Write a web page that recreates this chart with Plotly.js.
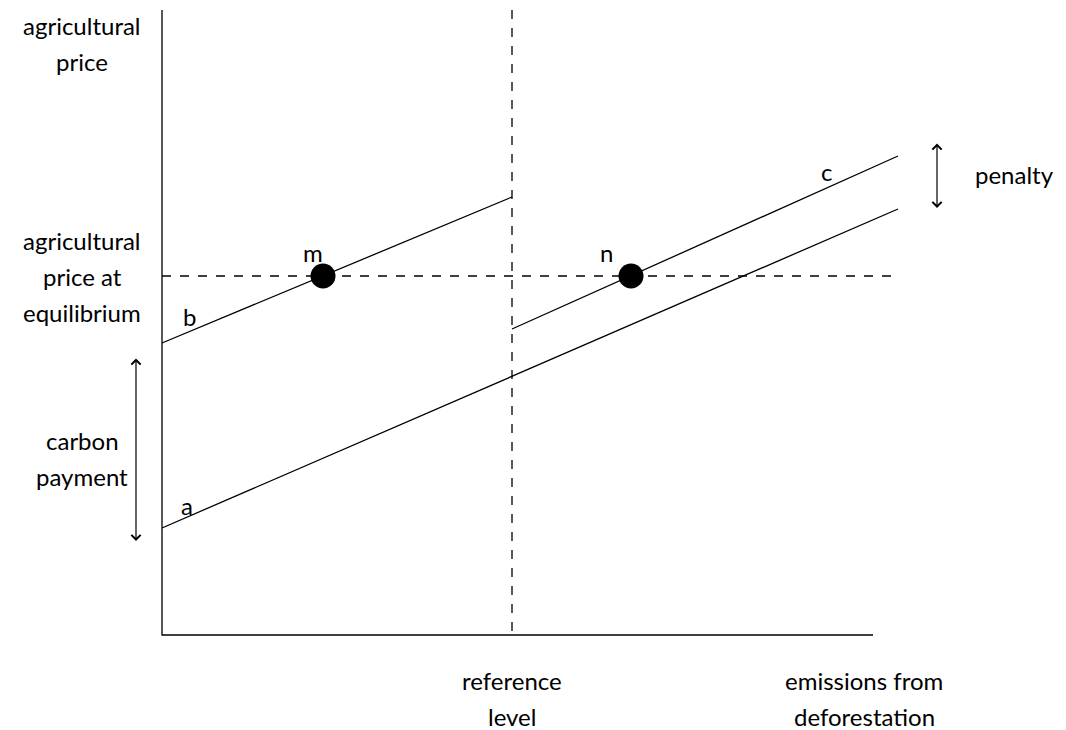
<!DOCTYPE html>
<html>
<head>
<meta charset="utf-8">
<script src="https://cdn.plot.ly/plotly-3.0.1.min.js"></script>
<style>body{margin:0;background:#fff}#chart{width:1066px;height:730px}</style>
</head>
<body>
<div id="chart"></div>
<script>
// schematic in picture coordinates (x right, y down)
const axisX = [162, 162, 873];
const axisY = [10, 635, 635];
const refX = [512, 512], refY = [10, 635];
const eqX = [162, 893], eqY = [276, 276];
const lineAX = [162, 898], lineAY = [528, 209];
const lineBX = [162, 512], lineBY = [343, 197];
const lineCX = [512, 898], lineCY = [329, 156];
const pointX = [323, 631], pointY = [276, 276];

// each label: lines of text, centre x, y of first line
const labels = [
  {t: ['m'], x: 313, y: 252}, {t: ['n'], x: 606, y: 252},
  {t: ['b'], x: 189, y: 316}, {t: ['a'], x: 187, y: 505}, {t: ['c'], x: 826, y: 171},
  {t: ['agricultural', 'price'], x: 82, y: 25},
  {t: ['agricultural', 'price at', 'equilibrium'], x: 82, y: 240},
  {t: ['carbon', 'payment'], x: 82, y: 440},
  {t: ['penalty'], x: 1014, y: 174},
  {t: ['reference', 'level'], x: 512, y: 680},
  {t: ['emissions from', 'deforestation'], x: 864, y: 680}
];
const lineGap = 36;
const arrows = [
  {x: 136, y0: 357, y1: 541},
  {x: 937, y0: 142, y1: 208}
];

const solid = {color: '#000', width: 1.3};
const dash = {color: '#000', width: 1.3, dash: 'dash'};
const traces = [
  {x: axisX, y: axisY, mode: 'lines', line: solid},
  {x: refX, y: refY, mode: 'lines', line: dash},
  {x: eqX, y: eqY, mode: 'lines', line: dash},
  {x: lineAX, y: lineAY, mode: 'lines', line: solid},
  {x: lineBX, y: lineBY, mode: 'lines', line: solid},
  {x: lineCX, y: lineCY, mode: 'lines', line: solid},
  {x: pointX, y: pointY, mode: 'markers', marker: {color: '#000', size: 25}}
];

const annotations = [];
labels.forEach(l => {
  l.t.forEach((s, i) => {
    annotations.push({x: l.x, y: l.y + i * lineGap, text: s, showarrow: false,
      xref: 'x', yref: 'y', font: {size: 24, color: '#000'}, align: 'center'});
  });
});
arrows.forEach(a => {
  annotations.push({x: a.x, y: a.y1, ax: a.x, ay: a.y0, axref: 'x', ayref: 'y',
    xref: 'x', yref: 'y', text: '', showarrow: true, arrowside: 'end+start',
    arrowhead: 4, arrowsize: 1.5, arrowwidth: 1.2, arrowcolor: '#000'});
});

Plotly.newPlot('chart', traces, {
  width: 1066, height: 730, showlegend: false,
  margin: {l: 0, r: 0, t: 0, b: 0},
  paper_bgcolor: '#fff', plot_bgcolor: '#fff',
  font: {family: 'Lato, sans-serif', color: '#000'},
  xaxis: {range: [0, 1066], visible: false},
  yaxis: {range: [730, 0], visible: false},
  annotations: annotations
}, {staticPlot: true});
</script>
</body>
</html>
